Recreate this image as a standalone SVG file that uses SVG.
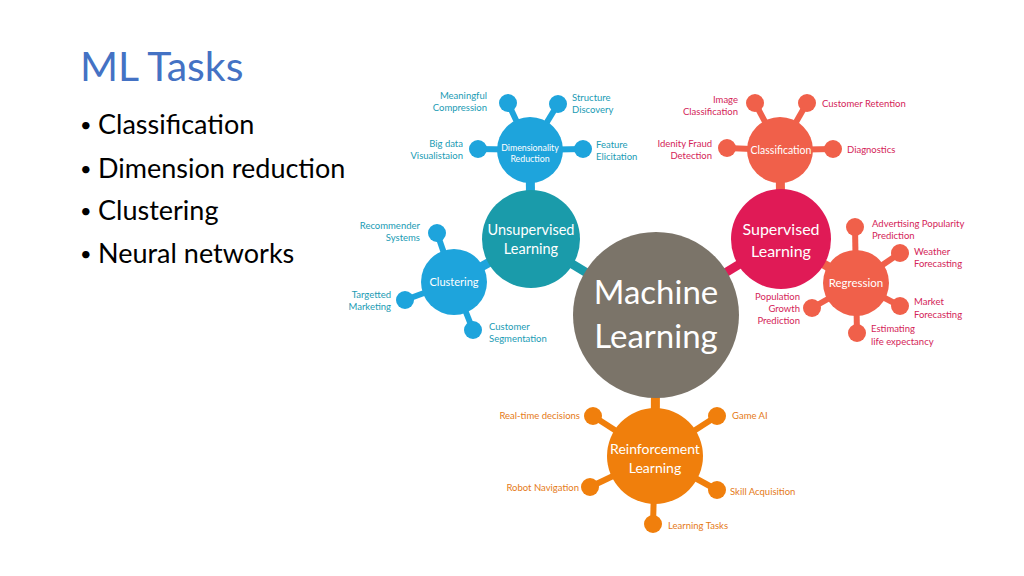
<svg xmlns="http://www.w3.org/2000/svg" width="1024" height="576" viewBox="0 0 1024 576">
<style>
.t{font-family:Lato,"Open Sans","Liberation Sans",sans-serif}
.title{font-size:41px;fill:#4472c4}
.bul{font-size:27px;fill:#000}
.dot{font-size:20px;fill:#000}
.w{fill:#fff;text-anchor:middle}
.lb{font-size:9.5px}
.uL{fill:#1a9bb4}
.sL{fill:#d42458}
.rL{fill:#e57a17}
.e{text-anchor:end}
.uA{fill:#1a9baa}.uB{fill:#1ea4dc}
.sA{fill:#e01a56}.sB{fill:#f0604a}
.rA{fill:#f07f0c}
.ml{fill:#7b7469}
.cu{stroke:#1ea4dc;stroke-width:6}
.cU{stroke:#1a9baa;stroke-width:9}
.cs{stroke:#f0604a;stroke-width:6}
.cS{stroke:#e01a56;stroke-width:9}
.cr{stroke:#f07f0c;stroke-width:6}
.cR{stroke:#f07f0c;stroke-width:9}
</style>
<rect width="1024" height="576" fill="#fff"/>
<g id="slide-text" class="t">
<text x="80" y="81" class="title">ML Tasks</text>
<text x="80" y="132" class="dot">•</text><text x="98" y="134" class="bul">Classification</text>
<text x="80" y="176" class="dot">•</text><text x="98" y="178" class="bul">Dimension reduction</text>
<text x="80" y="218" class="dot">•</text><text x="98" y="220" class="bul">Clustering</text>
<text x="80" y="261" class="dot">•</text><text x="98" y="263" class="bul">Neural networks</text>
</g>
<g id="connectors">
<line x1="531" y1="239" x2="656" y2="315" class="cU"/>
<line x1="781" y1="239" x2="656" y2="315" class="cS"/>
<line x1="655" y1="456" x2="656" y2="315" class="cR"/>
<line x1="530" y1="150" x2="531" y2="239" class="cu" style="stroke-width:9"/>
<line x1="454" y1="282" x2="531" y2="239" class="cu" style="stroke-width:9"/>
<line x1="780" y1="150" x2="781" y2="239" class="cs" style="stroke-width:9"/>
<line x1="856" y1="283" x2="781" y2="239" class="cs" style="stroke-width:9"/>
<line x1="508" y1="103" x2="530" y2="150" class="cu"/>
<line x1="558" y1="104" x2="530" y2="150" class="cu"/>
<line x1="478" y1="149" x2="530" y2="150" class="cu"/>
<line x1="583" y1="149" x2="530" y2="150" class="cu"/>
<line x1="437" y1="233" x2="454" y2="282" class="cu"/>
<line x1="405" y1="300" x2="454" y2="282" class="cu"/>
<line x1="473" y1="330" x2="454" y2="282" class="cu"/>
<line x1="755" y1="103" x2="780" y2="150" class="cs"/>
<line x1="807" y1="103" x2="780" y2="150" class="cs"/>
<line x1="727" y1="148" x2="780" y2="150" class="cs"/>
<line x1="833" y1="149" x2="780" y2="150" class="cs"/>
<line x1="855" y1="227" x2="856" y2="283" class="cs"/>
<line x1="900" y1="253" x2="856" y2="283" class="cs"/>
<line x1="900" y1="306" x2="856" y2="283" class="cs"/>
<line x1="857" y1="333" x2="856" y2="283" class="cs"/>
<line x1="812" y1="308" x2="856" y2="283" class="cs"/>
<line x1="593" y1="416" x2="655" y2="456" class="cr"/>
<line x1="717" y1="416" x2="655" y2="456" class="cr"/>
<line x1="590" y1="487" x2="655" y2="456" class="cr"/>
<line x1="717" y1="490" x2="655" y2="456" class="cr"/>
<line x1="653" y1="524" x2="655" y2="456" class="cr"/>
</g>
<g id="machine-learning" class="t">
<circle cx="656" cy="315" r="83" class="ml"/>
<text x="656" y="304" class="w" font-size="33">Machine</text>
<text x="656" y="348" class="w" font-size="33">Learning</text>
</g>
<g id="unsupervised" class="t">
<circle cx="531" cy="239" r="49" class="uA"/>
<text x="531" y="235" class="w" font-size="14.5">Unsupervised</text>
<text x="531" y="254" class="w" font-size="14.5">Learning</text>
</g>
<g id="dimensionality" class="t">
<circle cx="530" cy="150" r="33" class="uB"/>
<text x="530" y="151" class="w" font-size="8.8">Dimensionality</text>
<text x="530" y="162" class="w" font-size="8.8">Reduction</text>
</g>
<g id="dim-leaves" class="t lb">
<circle cx="508" cy="103" r="9" class="uB"/><circle cx="558" cy="104" r="9" class="uB"/>
<circle cx="478" cy="149" r="9" class="uB"/><circle cx="583" cy="149" r="9" class="uB"/>
<text x="487" y="99" class="uL e">Meaningful</text><text x="487" y="111" class="uL e">Compression</text>
<text x="572" y="101" class="uL">Structure</text><text x="572" y="113" class="uL">Discovery</text>
<text x="463" y="147" class="uL e">Big data</text><text x="463" y="159" class="uL e">Visualistaion</text>
<text x="596" y="148" class="uL">Feature</text><text x="596" y="160" class="uL">Elicitation</text>
</g>
<g id="clustering" class="t">
<circle cx="454" cy="282" r="33" class="uB"/>
<text x="454" y="286" class="w" font-size="11">Clustering</text>
</g>
<g id="clustering-leaves" class="t lb">
<circle cx="437" cy="233" r="9" class="uB"/><circle cx="405" cy="300" r="9" class="uB"/><circle cx="473" cy="330" r="9" class="uB"/>
<text x="420" y="229" class="uL e">Recommender</text><text x="420" y="241" class="uL e">Systems</text>
<text x="391" y="298" class="uL e">Targetted</text><text x="391" y="310" class="uL e">Marketing</text>
<text x="489" y="330" class="uL">Customer</text><text x="489" y="342" class="uL">Segmentation</text>
</g>
<g id="supervised" class="t">
<circle cx="781" cy="239" r="50" class="sA"/>
<text x="781" y="235" class="w" font-size="16">Supervised</text>
<text x="781" y="257" class="w" font-size="16">Learning</text>
</g>
<g id="classification" class="t">
<circle cx="780" cy="150" r="33" class="sB"/>
<text x="781" y="154" class="w" font-size="10.5">Classification</text>
</g>
<g id="classification-leaves" class="t lb">
<circle cx="755" cy="103" r="9" class="sB"/><circle cx="807" cy="103" r="9" class="sB"/>
<circle cx="727" cy="148" r="9" class="sB"/><circle cx="833" cy="149" r="9" class="sB"/>
<text x="738" y="103" class="sL e">Image</text><text x="738" y="115" class="sL e">Classification</text>
<text x="822" y="107" class="sL">Customer Retention</text>
<text x="712" y="147" class="sL e">Idenity Fraud</text><text x="712" y="159" class="sL e">Detection</text>
<text x="847" y="153" class="sL">Diagnostics</text>
</g>
<g id="regression" class="t">
<circle cx="856" cy="283" r="33" class="sB"/>
<text x="856" y="287" class="w" font-size="11.5">Regression</text>
</g>
<g id="regression-leaves" class="t lb">
<circle cx="855" cy="227" r="9" class="sB"/><circle cx="900" cy="253" r="9" class="sB"/>
<circle cx="900" cy="306" r="9" class="sB"/><circle cx="857" cy="333" r="9" class="sB"/>
<circle cx="812" cy="308" r="9" class="sB"/>
<text x="872" y="227" class="sL">Advertising Popularity</text><text x="872" y="239" class="sL">Prediction</text>
<text x="914" y="255" class="sL">Weather</text><text x="914" y="267" class="sL">Forecasting</text>
<text x="914" y="305" class="sL">Market</text><text x="914" y="318" class="sL">Forecasting</text>
<text x="871" y="332" class="sL">Estimating</text><text x="871" y="345" class="sL">life expectancy</text>
<text x="800" y="300" class="sL e">Population</text><text x="800" y="312" class="sL e">Growth</text><text x="800" y="324" class="sL e">Prediction</text>
</g>
<g id="reinforcement" class="t">
<circle cx="655" cy="456" r="48" class="rA"/>
<text x="655" y="454" class="w" font-size="14">Reinforcement</text>
<text x="655" y="473" class="w" font-size="14">Learning</text>
</g>
<g id="reinforcement-leaves" class="t lb">
<circle cx="593" cy="416" r="9" class="rA"/><circle cx="717" cy="416" r="9" class="rA"/>
<circle cx="590" cy="487" r="9" class="rA"/><circle cx="717" cy="490" r="9" class="rA"/>
<circle cx="653" cy="524" r="9" class="rA"/>
<text x="580" y="419" class="rL e">Real-time decisions</text>
<text x="732" y="419" class="rL">Game AI</text>
<text x="579" y="491" class="rL e">Robot Navigation</text>
<text x="730" y="495" class="rL">Skill Acquisition</text>
<text x="668" y="529" class="rL">Learning Tasks</text>
</g>
</svg>
